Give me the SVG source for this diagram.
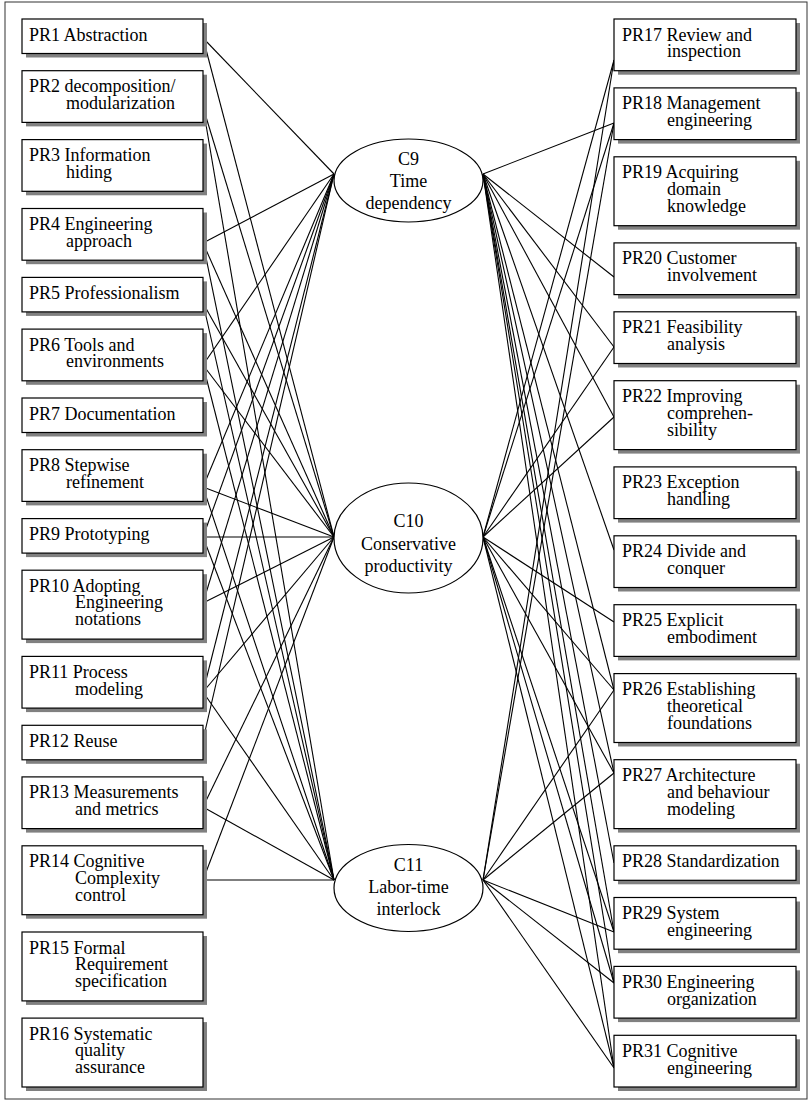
<svg xmlns="http://www.w3.org/2000/svg" width="811" height="1103" viewBox="0 0 811 1103">
<style>
.box{fill:#fff;stroke:#000;stroke-width:1.2}
.sh{fill:#808080}
text{font-family:"Liberation Serif","Times New Roman",serif;font-size:18px;fill:#000}
.c{text-anchor:middle}
.ell{fill:#fff;stroke:#000;stroke-width:1.2}
#connectors line{stroke:#000;stroke-width:1.1}
</style>
<rect x="5" y="2" width="802" height="1097" fill="#fff" stroke="#333" stroke-width="1"/>

<g id="connectors">
<!-- left principles to C9 (334,174), C10 (334,537), C11 (334,880) -->
<line x1="203" y1="38" x2="334" y2="174"/>
<line x1="203" y1="38" x2="334" y2="537"/>
<line x1="203" y1="107" x2="334" y2="537"/>
<line x1="203" y1="107" x2="334" y2="880"/>
<line x1="203" y1="243" x2="334" y2="174"/>
<line x1="203" y1="243" x2="334" y2="537"/>
<line x1="203" y1="243" x2="334" y2="880"/>
<line x1="203" y1="303" x2="334" y2="537"/>
<line x1="203" y1="303" x2="334" y2="880"/>
<line x1="203" y1="365" x2="334" y2="174"/>
<line x1="203" y1="365" x2="334" y2="537"/>
<line x1="203" y1="365" x2="334" y2="880"/>
<line x1="203" y1="487" x2="334" y2="174"/>
<line x1="203" y1="487" x2="334" y2="537"/>
<line x1="203" y1="487" x2="334" y2="880"/>
<line x1="203" y1="537" x2="334" y2="174"/>
<line x1="203" y1="537" x2="334" y2="537"/>
<line x1="203" y1="537" x2="334" y2="880"/>
<line x1="203" y1="603" x2="334" y2="174"/>
<line x1="203" y1="603" x2="334" y2="537"/>
<line x1="203" y1="692" x2="334" y2="174"/>
<line x1="203" y1="692" x2="334" y2="537"/>
<line x1="203" y1="692" x2="334" y2="880"/>
<line x1="203" y1="740" x2="334" y2="174"/>
<line x1="203" y1="807" x2="334" y2="537"/>
<line x1="203" y1="807" x2="334" y2="880"/>
<line x1="203" y1="880" x2="334" y2="537"/>
<line x1="203" y1="880" x2="334" y2="880"/>
<!-- C9 (483,174), C10 (483,537), C11 (483,880) to right principles -->
<line x1="483" y1="537" x2="614" y2="60"/>
<line x1="483" y1="880" x2="614" y2="60"/>
<line x1="483" y1="174" x2="614" y2="123"/>
<line x1="483" y1="537" x2="614" y2="123"/>
<line x1="483" y1="880" x2="614" y2="123"/>
<line x1="483" y1="174" x2="614" y2="277"/>
<line x1="483" y1="174" x2="614" y2="347"/>
<line x1="483" y1="537" x2="614" y2="347"/>
<line x1="483" y1="174" x2="614" y2="417"/>
<line x1="483" y1="537" x2="614" y2="417"/>
<line x1="483" y1="174" x2="614" y2="550"/>
<line x1="483" y1="537" x2="614" y2="622"/>
<line x1="483" y1="174" x2="614" y2="690"/>
<line x1="483" y1="537" x2="614" y2="690"/>
<line x1="483" y1="880" x2="614" y2="690"/>
<line x1="483" y1="174" x2="614" y2="773"/>
<line x1="483" y1="537" x2="614" y2="773"/>
<line x1="483" y1="880" x2="614" y2="773"/>
<line x1="483" y1="174" x2="614" y2="863"/>
<line x1="483" y1="174" x2="614" y2="932"/>
<line x1="483" y1="537" x2="614" y2="932"/>
<line x1="483" y1="880" x2="614" y2="932"/>
<line x1="483" y1="174" x2="614" y2="983"/>
<line x1="483" y1="537" x2="614" y2="983"/>
<line x1="483" y1="880" x2="614" y2="983"/>
<line x1="483" y1="174" x2="614" y2="1068"/>
<line x1="483" y1="537" x2="614" y2="1068"/>
<line x1="483" y1="880" x2="614" y2="1068"/>
</g>

<!-- constraint ellipses -->
<g id="c9"><ellipse class="ell" cx="408.5" cy="180.5" rx="74.5" ry="41.5"/>
<text class="c"><tspan x="408.5" y="165">C9</tspan><tspan x="408.5" y="187">Time</tspan><tspan x="408.5" y="209">dependency</tspan></text></g>
<g id="c10"><ellipse class="ell" cx="408.5" cy="538" rx="74.5" ry="55"/>
<text class="c"><tspan x="408.5" y="527">C10</tspan><tspan x="408.5" y="549.5">Conservative</tspan><tspan x="408.5" y="571.5">productivity</tspan></text></g>
<g id="c11"><ellipse class="ell" cx="408.5" cy="888" rx="74.5" ry="43.5"/>
<text class="c"><tspan x="408.5" y="871">C11</tspan><tspan x="408.5" y="893">Labor-time</tspan><tspan x="408.5" y="915">interlock</tspan></text></g>

<!-- left column principles -->
<g id="pr1"><rect class="sh" x="26" y="23" width="181" height="34.5"/><rect class="box" x="22" y="19" width="181" height="34.5"/><text x="29" y="40.5">PR1 Abstraction</text></g>
<g id="pr2"><rect class="sh" x="26" y="74.7" width="181" height="51.7"/><rect class="box" x="22" y="70.7" width="181" height="51.7"/><text><tspan x="29" y="92.2">PR2 decomposition/</tspan><tspan x="66" y="108.9">modularization</tspan></text></g>
<g id="pr3"><rect class="sh" x="26" y="143.6" width="181" height="51.7"/><rect class="box" x="22" y="139.6" width="181" height="51.7"/><text><tspan x="29" y="161.1">PR3 Information</tspan><tspan x="66" y="177.8">hiding</tspan></text></g>
<g id="pr4"><rect class="sh" x="26" y="212.5" width="181" height="51.7"/><rect class="box" x="22" y="208.5" width="181" height="51.7"/><text><tspan x="29" y="230">PR4 Engineering</tspan><tspan x="66" y="246.7">approach</tspan></text></g>
<g id="pr5"><rect class="sh" x="26" y="281.4" width="181" height="34.5"/><rect class="box" x="22" y="277.4" width="181" height="34.5"/><text x="29" y="298.9">PR5 Professionalism</text></g>
<g id="pr6"><rect class="sh" x="26" y="333.1" width="181" height="51.7"/><rect class="box" x="22" y="329.1" width="181" height="51.7"/><text><tspan x="29" y="350.6">PR6 Tools and</tspan><tspan x="66" y="367.3">environments</tspan></text></g>
<g id="pr7"><rect class="sh" x="26" y="402" width="181" height="34.5"/><rect class="box" x="22" y="398" width="181" height="34.5"/><text x="29" y="419.5">PR7 Documentation</text></g>
<g id="pr8"><rect class="sh" x="26" y="453.7" width="181" height="51.7"/><rect class="box" x="22" y="449.7" width="181" height="51.7"/><text><tspan x="29" y="471.2">PR8 Stepwise</tspan><tspan x="66" y="487.9">refinement</tspan></text></g>
<g id="pr9"><rect class="sh" x="26" y="522.6" width="181" height="34.5"/><rect class="box" x="22" y="518.6" width="181" height="34.5"/><text x="29" y="540.1">PR9 Prototyping</text></g>
<g id="pr10"><rect class="sh" x="26" y="574.2" width="181" height="68.9"/><rect class="box" x="22" y="570.2" width="181" height="68.9"/><text><tspan x="29" y="591.7">PR10 Adopting</tspan><tspan x="75" y="608.4">Engineering</tspan><tspan x="75" y="625.1">notations</tspan></text></g>
<g id="pr11"><rect class="sh" x="26" y="660.4" width="181" height="51.7"/><rect class="box" x="22" y="656.4" width="181" height="51.7"/><text><tspan x="29" y="677.9">PR11 Process</tspan><tspan x="75" y="694.6">modeling</tspan></text></g>
<g id="pr12"><rect class="sh" x="26" y="729.3" width="181" height="34.5"/><rect class="box" x="22" y="725.3" width="181" height="34.5"/><text x="29" y="746.8">PR12 Reuse</text></g>
<g id="pr13"><rect class="sh" x="26" y="780.9" width="181" height="51.7"/><rect class="box" x="22" y="776.9" width="181" height="51.7"/><text><tspan x="29" y="798.4">PR13 Measurements</tspan><tspan x="75" y="815.1">and metrics</tspan></text></g>
<g id="pr14"><rect class="sh" x="26" y="849.8" width="181" height="68.9"/><rect class="box" x="22" y="845.8" width="181" height="68.9"/><text><tspan x="29" y="867.3">PR14 Cognitive</tspan><tspan x="75" y="884">Complexity</tspan><tspan x="75" y="900.7">control</tspan></text></g>
<g id="pr15"><rect class="sh" x="26" y="936" width="181" height="68.9"/><rect class="box" x="22" y="932" width="181" height="68.9"/><text><tspan x="29" y="953.5">PR15 Formal</tspan><tspan x="75" y="970.2">Requirement</tspan><tspan x="75" y="986.9">specification</tspan></text></g>
<g id="pr16"><rect class="sh" x="26" y="1022.1" width="181" height="68.9"/><rect class="box" x="22" y="1018.1" width="181" height="68.9"/><text><tspan x="29" y="1039.6">PR16 Systematic</tspan><tspan x="75" y="1056.3">quality</tspan><tspan x="75" y="1073">assurance</tspan></text></g>

<!-- right column principles -->
<g id="pr17"><rect class="sh" x="618" y="23" width="182" height="51.7"/><rect class="box" x="614" y="19" width="182" height="51.7"/><text><tspan x="622" y="40.5">PR17 Review and</tspan><tspan x="667" y="57.2">inspection</tspan></text></g>
<g id="pr18"><rect class="sh" x="618" y="91.9" width="182" height="51.7"/><rect class="box" x="614" y="87.9" width="182" height="51.7"/><text><tspan x="622" y="109.4">PR18 Management</tspan><tspan x="667" y="126.1">engineering</tspan></text></g>
<g id="pr19"><rect class="sh" x="618" y="160.8" width="182" height="68.9"/><rect class="box" x="614" y="156.8" width="182" height="68.9"/><text><tspan x="622" y="178.3">PR19 Acquiring</tspan><tspan x="667" y="195">domain</tspan><tspan x="667" y="211.7">knowledge</tspan></text></g>
<g id="pr20"><rect class="sh" x="618" y="246.9" width="182" height="51.7"/><rect class="box" x="614" y="242.9" width="182" height="51.7"/><text><tspan x="622" y="264.4">PR20 Customer</tspan><tspan x="667" y="281.1">involvement</tspan></text></g>
<g id="pr21"><rect class="sh" x="618" y="315.8" width="182" height="51.7"/><rect class="box" x="614" y="311.8" width="182" height="51.7"/><text><tspan x="622" y="333.3">PR21 Feasibility</tspan><tspan x="667" y="350">analysis</tspan></text></g>
<g id="pr22"><rect class="sh" x="618" y="384.7" width="182" height="68.9"/><rect class="box" x="614" y="380.7" width="182" height="68.9"/><text><tspan x="622" y="402.2">PR22 Improving</tspan><tspan x="667" y="418.9">comprehen-</tspan><tspan x="667" y="435.6">sibility</tspan></text></g>
<g id="pr23"><rect class="sh" x="618" y="470.9" width="182" height="51.7"/><rect class="box" x="614" y="466.9" width="182" height="51.7"/><text><tspan x="622" y="488.4">PR23 Exception</tspan><tspan x="667" y="505.1">handling</tspan></text></g>
<g id="pr24"><rect class="sh" x="618" y="539.8" width="182" height="51.7"/><rect class="box" x="614" y="535.8" width="182" height="51.7"/><text><tspan x="622" y="557.3">PR24 Divide and</tspan><tspan x="667" y="574">conquer</tspan></text></g>
<g id="pr25"><rect class="sh" x="618" y="608.7" width="182" height="51.7"/><rect class="box" x="614" y="604.7" width="182" height="51.7"/><text><tspan x="622" y="626.2">PR25 Explicit</tspan><tspan x="667" y="642.9">embodiment</tspan></text></g>
<g id="pr26"><rect class="sh" x="618" y="677.6" width="182" height="68.9"/><rect class="box" x="614" y="673.6" width="182" height="68.9"/><text><tspan x="622" y="695.1">PR26 Establishing</tspan><tspan x="667" y="711.8">theoretical</tspan><tspan x="667" y="728.5">foundations</tspan></text></g>
<g id="pr27"><rect class="sh" x="618" y="763.7" width="182" height="68.9"/><rect class="box" x="614" y="759.7" width="182" height="68.9"/><text><tspan x="622" y="781.2">PR27 Architecture</tspan><tspan x="667" y="797.9">and behaviour</tspan><tspan x="667" y="814.6">modeling</tspan></text></g>
<g id="pr28"><rect class="sh" x="618" y="849.8" width="182" height="34.5"/><rect class="box" x="614" y="845.8" width="182" height="34.5"/><text x="622" y="867.3">PR28 Standardization</text></g>
<g id="pr29"><rect class="sh" x="618" y="901.5" width="182" height="51.7"/><rect class="box" x="614" y="897.5" width="182" height="51.7"/><text><tspan x="622" y="919">PR29 System</tspan><tspan x="667" y="935.7">engineering</tspan></text></g>
<g id="pr30"><rect class="sh" x="618" y="970.4" width="182" height="51.7"/><rect class="box" x="614" y="966.4" width="182" height="51.7"/><text><tspan x="622" y="987.9">PR30 Engineering</tspan><tspan x="667" y="1004.6">organization</tspan></text></g>
<g id="pr31"><rect class="sh" x="618" y="1039.3" width="182" height="51.7"/><rect class="box" x="614" y="1035.3" width="182" height="51.7"/><text><tspan x="622" y="1056.8">PR31 Cognitive</tspan><tspan x="667" y="1073.5">engineering</tspan></text></g>
</svg>
